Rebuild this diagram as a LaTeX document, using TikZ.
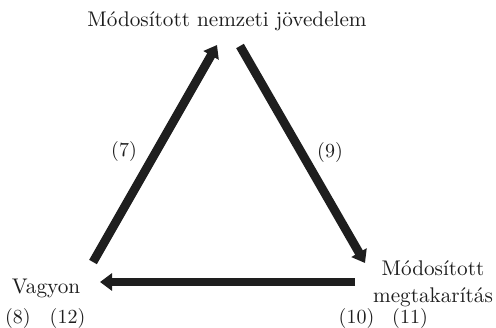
\documentclass[tikz,border=0pt]{standalone}
\usetikzlibrary{arrows.meta,positioning,calc}
\definecolor{Ink}{HTML}{1E1E1E}
\tikzset{
 lbl/.style={font=\fontsize{10.6}{13.5}\selectfont,text=Ink,align=center,inner sep=0pt},
 num/.style={lbl,font=\fontsize{10}{12}\selectfont},
 flow/.style={-{Triangle[length=6pt,width=8.5pt]},line width=4.4pt,draw=Ink}
}
\begin{document}
\begin{tikzpicture}[x=1pt,y=1pt]
\useasboundingbox (0,0) rectangle (248,163.5);
\node[lbl,anchor=base] (inc) at (113.5,150) {Módosított nemzeti jövedelem};
\node[lbl,anchor=base] (wealth) at (23,17) {Vagyon};
\node[lbl,anchor=north] (sav) at (216.5,33.3) {Módosított\\megtakarítás};
\node[num] (n8) at (9,4.5) {(8)};
\node[num] (n12) at (33.75,4.5) {(12)};
\node[num] (n10) at (178.25,4.5) {(10)};
\node[num] (n11) at (205,4.5) {(11)};
\node[num] (n7) at (62,87.75) {(7)};
\node[num] (n9) at (165,87.5) {(9)};
% arrows between the three quantities
\draw[flow] ($(wealth.base)+(23.5,15.5)$) -- ($(inc.base)+(-5,-9)$);
\draw[flow] ($(inc.base)+(6.5,-9.5)$) -- ($(sav.north)+(-34,-1.3)$);
\draw[flow] ($(sav.north)+(-39,-10.8)$) -- ($(wealth.base)+(27,5.5)$);
\end{tikzpicture}
\end{document}
